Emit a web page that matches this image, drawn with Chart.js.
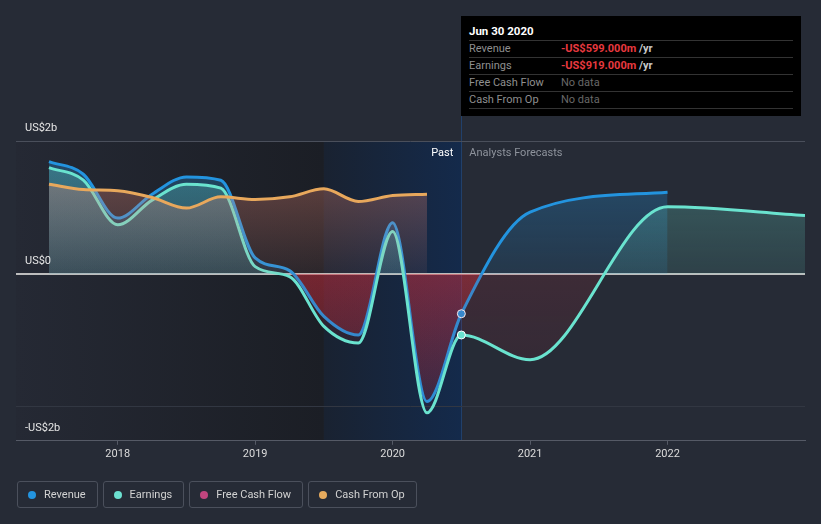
<!DOCTYPE html>
<html>
<head>
<meta charset="utf-8">
<script src="https://cdn.jsdelivr.net/npm/chart.js@4.4.0/dist/chart.umd.min.js"></script>
<style>
  html, body { margin: 0; padding: 0; background: #262b36; width: 821px; height: 524px; overflow: hidden; font-family: Roboto, "Noto Sans", sans-serif; }
  #wrap { position: relative; width: 821px; height: 524px; }
  #chart { position: absolute; left: 0; top: 0; }
  .tip { position: absolute; left: 461px; top: 16px; width: 340px; height: 100px; background: #000; box-sizing: border-box; padding: 7px 8px 0 8px; font-size: 11px; }
  .tip .title { color: #fff; font-weight: bold; font-size: 11.5px; line-height: 17px; border-bottom: 1px solid #333; }
  .tip .row { display: flex; line-height: 16px; border-bottom: 1px solid #333; }
  .tip .lbl { width: 92px; color: #8f8f8f; }
  .tip .neg { color: #e8393f; font-weight: bold; }
  .tip .unit { color: #c8c8c8; font-weight: bold; }
  .tip .nodata { color: #686868; }
  .legend { position: absolute; left: 17px; top: 481px; display: flex; gap: 5px; }
  .legend div { height: 25px; border: 1px solid #4b505c; border-radius: 3px; padding: 0 11px 0 10px; display: flex; align-items: center; color: #d2d2d2; font-size: 11px; }
  .legend span { width: 8px; height: 8px; border-radius: 50%; margin-right: 8px; }
</style>
</head>
<body>
<div id="wrap">
  <canvas id="chart" width="821" height="524"></canvas>
  <div class="tip">
    <div class="title">Jun 30 2020</div>
    <div class="row"><span class="lbl">Revenue</span><span class="neg">-US$599.000m</span><span class="unit">&nbsp;/yr</span></div>
    <div class="row"><span class="lbl">Earnings</span><span class="neg">-US$919.000m</span><span class="unit">&nbsp;/yr</span></div>
    <div class="row"><span class="lbl">Free Cash Flow</span><span class="nodata">No data</span></div>
    <div class="row"><span class="lbl">Cash From Op</span><span class="nodata">No data</span></div>
  </div>
  <div class="legend">
    <div><span style="background:#2394df"></span>Revenue</div>
    <div><span style="background:#6ce0d0"></span>Earnings</div>
    <div><span style="background:#c0457e"></span>Free Cash Flow</div>
    <div><span style="background:#e6ab5e"></span>Cash From Op</div>
  </div>
</div>
<script>
// values in US$ billions, x in fractional years
const revenueYears = [2017.5, 2017.75, 2018, 2018.25, 2018.5, 2018.75, 2019, 2019.25, 2019.5, 2019.75, 2020, 2020.25, 2020.5, 2021, 2022];
const revenue = [1.69, 1.5, 0.84, 1.2, 1.46, 1.41, 0.24, 0.05, -0.64, -0.92, 0.77, -1.92, -0.599, 0.93, 1.23];

const earningsYears = [2017.5, 2017.75, 2018, 2018.25, 2018.5, 2018.75, 2019, 2019.25, 2019.5, 2019.75, 2020, 2020.25, 2020.5, 2021, 2022, 2023];
const earnings = [1.6, 1.41, 0.74, 1.11, 1.35, 1.29, 0.11, -0.04, -0.79, -1.04, 0.64, -2.09, -0.919, -1.29, 1.01, 0.88];

const cashOpYears = [2017.5, 2017.75, 2018, 2018.25, 2018.5, 2018.75, 2019, 2019.25, 2019.5, 2019.75, 2020, 2020.25];
const cashFromOp = [1.35, 1.27, 1.25, 1.15, 0.99, 1.16, 1.12, 1.16, 1.28, 1.09, 1.18, 1.2];

const yearTicks = [2018, 2019, 2020, 2021, 2022];
const valueTicks = [-2, 0, 2];
const highlightStart = 2019.5;
const nowYear = 2020.5;

const toPoints = (xs, ys) => xs.map((x, i) => ({ x: x, y: ys[i] }));
const moneyLabel = (v) => (v === 0 ? 'US$0' : (v < 0 ? '-' : '') + 'US$' + Math.abs(v) + 'b');

function areaFill(aboveTop, aboveZero, belowZero, belowBottom) {
  return (c) => {
    const chart = c.chart;
    const a = chart.chartArea;
    if (!a) return 'transparent';
    const y0 = chart.scales.y.getPixelForValue(0);
    const z = Math.min(Math.max((y0 - a.top) / (a.bottom - a.top), 0), 1);
    const g = chart.ctx.createLinearGradient(0, a.top, 0, a.bottom);
    g.addColorStop(0, aboveTop);
    g.addColorStop(z, aboveZero);
    g.addColorStop(z, belowZero);
    g.addColorStop(1, belowBottom);
    return g;
  };
}

const nowDot = (c) => (c.raw && c.raw.x === nowYear ? 4 : 0);

const backdrop = {
  id: 'backdrop',
  beforeDraw(chart) {
    const { ctx, chartArea: a, scales: { x } } = chart;
    const pastEnd = x.getPixelForValue(highlightStart);
    const now = x.getPixelForValue(nowYear);
    ctx.save();
    let g = ctx.createLinearGradient(a.left, 0, pastEnd, 0);
    g.addColorStop(0, '#252934');
    g.addColorStop(1, '#1b1e25');
    ctx.fillStyle = g;
    ctx.fillRect(a.left, a.top, pastEnd - a.left, a.bottom - a.top);
    g = ctx.createLinearGradient(pastEnd, 0, now, 0);
    g.addColorStop(0, '#192231');
    g.addColorStop(1, '#142a4b');
    ctx.fillStyle = g;
    ctx.fillRect(pastEnd, a.top, now - pastEnd, a.bottom - a.top);
    ctx.fillStyle = '#21406b';
    ctx.fillRect(Math.round(now), 116, 1, a.bottom - 116);
    ctx.restore();
  },
  afterDraw(chart) {
    const { ctx, chartArea: a, scales: { x, y } } = chart;
    const now = x.getPixelForValue(nowYear);
    ctx.save();
    ctx.font = '11px Roboto';
    ctx.textBaseline = 'middle';
    ctx.textAlign = 'right';
    ctx.fillStyle = '#ffffff';
    ctx.fillText('Past', now - 8, a.top + 12);
    ctx.textAlign = 'left';
    ctx.fillStyle = '#8e939c';
    ctx.fillText('Analysts Forecasts', now + 8, a.top + 12);
    // value labels: above their gridline, the negative one below it
    ctx.fillStyle = '#e6e6e6';
    valueTicks.forEach((v) => {
      const py = y.getPixelForValue(v);
      ctx.fillText(moneyLabel(v), a.left + 9, v < 0 ? py + 21 : py - 13);
    });
    ctx.restore();
  }
};

new Chart(document.getElementById('chart'), {
  type: 'line',
  data: {
    datasets: [
      {
        label: 'Revenue',
        data: toPoints(revenueYears, revenue),
        borderColor: '#2394df',
        pointBackgroundColor: '#2394df',
        pointBorderColor: '#ffffff',
        backgroundColor: areaFill('rgba(35,148,223,0.36)', 'rgba(35,148,223,0.12)', 'rgba(205,45,60,0.42)', 'rgba(205,45,60,0.08)'),
        fill: 'origin',
        order: 3
      },
      {
        label: 'Earnings',
        data: toPoints(earningsYears, earnings),
        borderColor: '#6ae3cf',
        pointBackgroundColor: '#6ae3cf',
        pointBorderColor: '#ffffff',
        backgroundColor: areaFill('rgba(108,226,208,0.32)', 'rgba(108,226,208,0.12)', 'rgba(205,45,60,0.14)', 'rgba(205,45,60,0.04)'),
        fill: 'origin',
        order: 2
      },
      {
        label: 'Cash From Op',
        data: toPoints(cashOpYears, cashFromOp),
        borderColor: '#e8a85c',
        pointBackgroundColor: '#e8a85c',
        pointBorderColor: '#ffffff',
        backgroundColor: areaFill('rgba(235,135,115,0.42)', 'rgba(235,135,115,0.08)', 'rgba(235,135,115,0.08)', 'rgba(235,135,115,0.02)'),
        fill: 'origin',
        order: 1
      }
    ]
  },
  options: {
    animation: false,
    responsive: false,
    events: [],
    layout: { padding: { left: 16, right: 16, top: 141, bottom: 60 } },
    elements: {
      line: { borderWidth: 3, cubicInterpolationMode: 'monotone' },
      point: { radius: nowDot, hoverRadius: 0, borderWidth: 1 }
    },
    plugins: { legend: { display: false }, tooltip: { enabled: false } },
    scales: {
      x: {
        type: 'linear',
        min: 2017.26,
        max: 2023,
        afterBuildTicks: (s) => { s.ticks = yearTicks.map((v) => ({ value: v })); },
        grid: { drawOnChartArea: false, drawTicks: true, tickLength: 4, color: '#555a66' },
        border: { color: '#555a66', width: 1 },
        ticks: { color: '#dcdcdc', font: { family: 'Roboto', size: 11 }, padding: 3, maxRotation: 0, callback: (v) => String(v) }
      },
      y: {
        min: -2.511,
        max: 2,
        afterBuildTicks: (s) => { s.ticks = valueTicks.map((v) => ({ value: v })); },
        afterFit: (s) => { s.width = 0; },
        grid: {
          drawTicks: false,
          color: (c) => (c.tick.value === 0 ? '#bdbdbd' : c.tick.value > 0 ? '#4a4f5b' : '#323742'),
          lineWidth: (c) => (c.tick.value === 0 ? 2 : 1)
        },
        border: { display: false },
        ticks: { display: false }
      }
    }
  },
  plugins: [backdrop]
});
</script>
</body>
</html>
